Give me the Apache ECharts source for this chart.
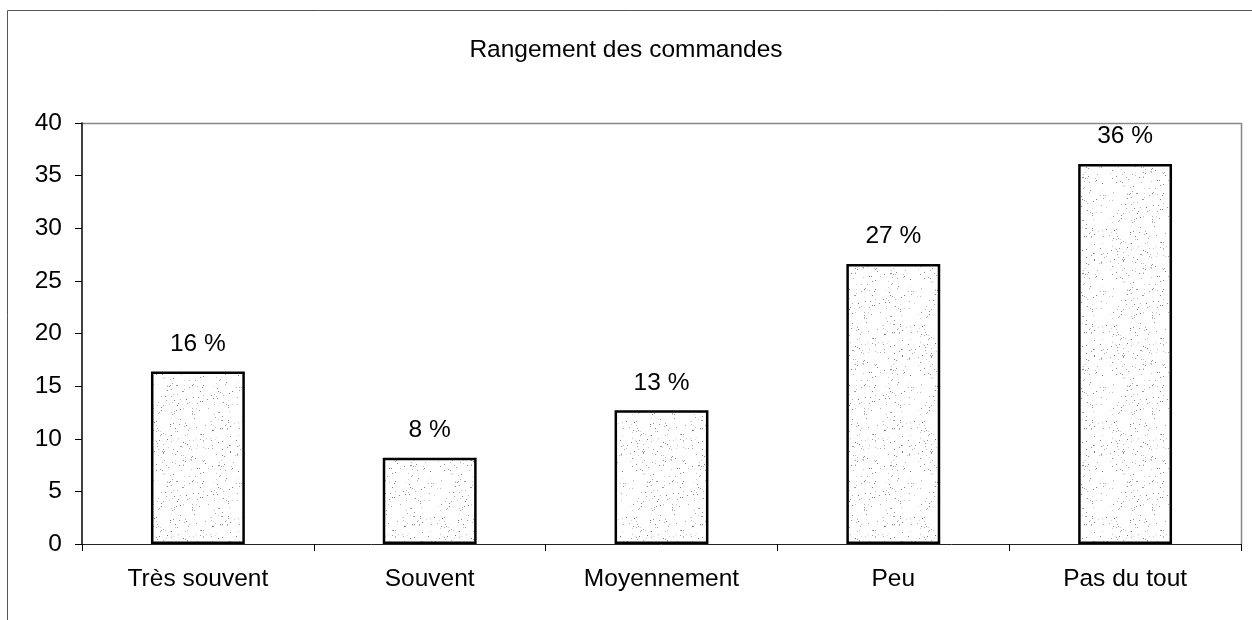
<!DOCTYPE html>
<html>
<head>
<meta charset="utf-8">
<script src="https://cdn.jsdelivr.net/npm/echarts@6/dist/echarts.min.js"></script>
<style>
  html, body { margin: 0; padding: 0; background: #fff; }
  #chart { width: 1252px; height: 620px; }
</style>
</head>
<body>
<div id="chart"></div>
<script>
// Survey answers: how often orders are put away
const categories = ['Très souvent', 'Souvent', 'Moyennement', 'Peu', 'Pas du tout'];
const values = [16.4, 8.2, 12.7, 26.6, 36.1];
const yTicks = { min: 0, max: 40, interval: 5 };

// Stippled fill for the bars: light grey speckles on white (deterministic LCG)
function makeStipple() {
  const c = document.createElement('canvas');
  c.width = 96; c.height = 96;
  const g = c.getContext('2d');
  g.fillStyle = '#ffffff';
  g.fillRect(0, 0, 96, 96);
  let s = 12345;
  const next = () => { s = (s * 1103515245 + 12345) & 0x7fffffff; return s / 0x7fffffff; };
  for (let i = 0; i < 330; i++) {
    const x = Math.floor(next() * 96), y = Math.floor(next() * 96);
    const shade = 120 + Math.floor(next() * 100);
    g.fillStyle = 'rgb(' + shade + ',' + shade + ',' + shade + ')';
    g.fillRect(x, y, 1, 1);
  }
  return c;
}

const chart = echarts.init(document.getElementById('chart'), null, { renderer: 'canvas' });
const font = 'Liberation Sans, Arial, sans-serif';

chart.setOption({
  animation: false,
  backgroundColor: '#ffffff',
  title: {
    text: 'Rangement des commandes',
    left: 'center',
    top: 33,
    textStyle: { fontFamily: font, fontSize: 24.5, fontWeight: 'normal', color: '#000' }
  },
  graphic: [
    // outer chart frame
    { type: 'rect', shape: { x: 7.5, y: 10.5, width: 1300, height: 700 },
      style: { fill: 'none', stroke: '#555', lineWidth: 1 }, silent: true },
    // plot area frame (top and right)
    { type: 'polyline', shape: { points: [[82, 123.5], [1241.5, 123.5], [1241.5, 544]] },
      style: { fill: 'none', stroke: '#888', lineWidth: 1.5 }, silent: true }
  ],
  grid: { left: 82, right: 11, top: 123, bottom: 76, containLabel: false },
  xAxis: {
    type: 'category',
    data: categories,
    axisLine: { show: true, lineStyle: { color: '#222', width: 1 } },
    axisTick: { show: true, length: 7, lineStyle: { color: '#000' } },
    axisLabel: { fontFamily: font, fontSize: 24.5, color: '#000', margin: 23 },
    splitLine: { show: false }
  },
  yAxis: {
    type: 'value',
    min: yTicks.min, max: yTicks.max, interval: yTicks.interval,
    axisLine: { show: true, lineStyle: { color: '#000', width: 1.5 } },
    axisTick: { show: true, length: 7, lineStyle: { color: '#000' } },
    axisLabel: { fontFamily: font, fontSize: 24.5, color: '#000', margin: 20 },
    splitLine: { show: false }
  },
  series: [{
    type: 'bar',
    data: values,
    barWidth: '40.5%',
    itemStyle: {
      color: { image: makeStipple(), repeat: 'repeat' },
      borderColor: '#000',
      borderWidth: 2.5
    },
    label: {
      show: true,
      position: 'top',
      distance: 15,
      fontFamily: font,
      fontSize: 24.5,
      color: '#000',
      formatter: p => Math.round(p.value) + ' %'
    }
  }]
});
</script>
</body>
</html>
